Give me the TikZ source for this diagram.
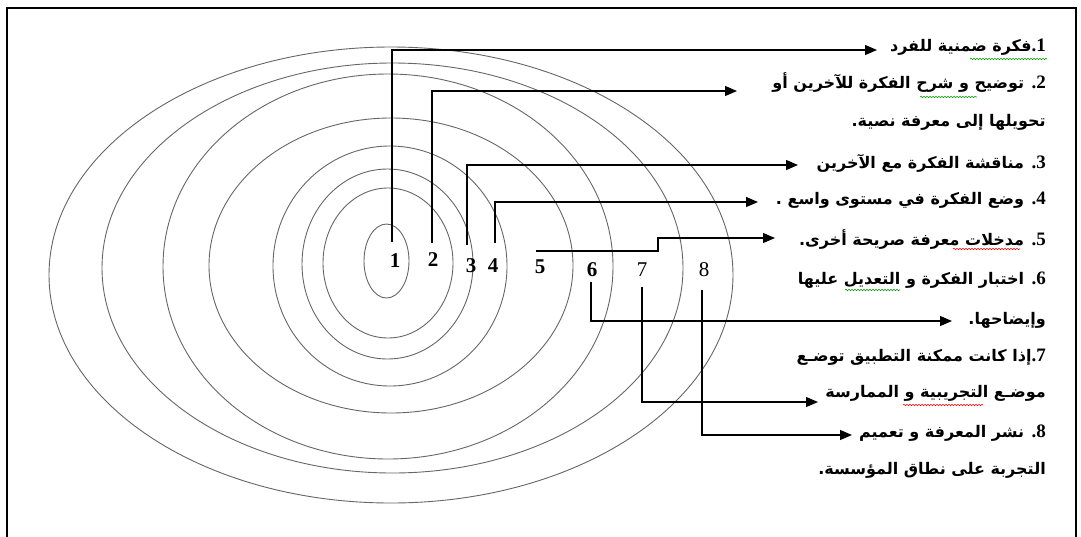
\documentclass[tikz,border=0pt]{standalone}
\usepackage{fontspec}
\setmainfont{Liberation Serif}
\newfontfamily\arabicfont[Script=Arabic]{DejaVu Sans}
\TeXXeTstate=1
\usetikzlibrary{arrows.meta, calc, decorations.pathmorphing}

\newcommand{\itemno}[1]{{\rmfamily\bfseries\fontsize{19}{19}\selectfont #1\kern0pt.}}

\begin{document}
\begin{tikzpicture}[x=1pt, y=-1pt,
    frame/.style={line width=1.8pt},
    ring/.style={draw=black!60, line width=0.9pt},
    conn/.style={line width=1.2pt},
    arrow/.style={conn, -{Triangle[length=12pt, width=10pt]}},
    num/.style={inner sep=0pt, font=\bfseries\fontsize{21}{21}\selectfont},
    numthin/.style={inner sep=0pt, font=\fontsize{21}{21}\selectfont},
    item/.style={anchor=east, inner sep=0pt, font=\arabicfont\bfseries\fontsize{16}{16}\selectfont},
    squiggle/.style={decorate, decoration={snake, amplitude=0.7pt, segment length=3pt}, line width=0.6pt}
]
    \useasboundingbox (0,0) rectangle (1081,536);

    % frame
    \draw[frame] (7,540) -- (7,8) -- (1076,8) -- (1076,540);

    % rings
    \draw[ring] (386.5,261) ellipse [x radius=22.5pt, y radius=37pt];
    \draw[ring] (388,263) ellipse [x radius=65pt, y radius=75pt];
    \draw[ring] (387.5,264) ellipse [x radius=85.5pt, y radius=95pt];
    \draw[ring] (390,266) ellipse [x radius=117pt, y radius=120pt];
    \draw[ring] (391,265.5) ellipse [x radius=182pt, y radius=147.5pt];
    \draw[ring] (388,266.5) ellipse [x radius=225pt, y radius=192.5pt];
    \draw[ring] (392.5,268) ellipse [x radius=290.5pt, y radius=205pt];
    \draw[ring] (391,275) ellipse [x radius=342pt, y radius=228pt];

    % numbers
    \node[num] (n1) at (395,261) {1};
    \node[num] (n2) at (433,260) {2};
    \node[num] (n3) at (471,266) {3};
    \node[num] (n4) at (493,266) {4};
    \node[num] (n5) at (540,267) {5};
    \node[num] (n6) at (592,270) {6};
    \node[numthin] (n7) at (642,270) {7};
    \node[numthin] (n8) at (704,270) {8};

    % stages
    \node[item] (t1) at (1046,47) {\beginR\itemno{1}فكرة ضمنية للفرد\endR};
    \node[item] (t2a) at (1046,83) {\beginR\itemno{2} توضيح  و شرح الفكرة للآخرين أو\endR};
    \node[item] (t2b) at (1046,122) {\beginR تحويلها إلى معرفة نصية.\endR};
    \node[item] (t3) at (1046,163) {\beginR\itemno{3} مناقشة الفكرة مع الآخرين\endR};
    \node[item] (t4) at (1046,200) {\beginR\itemno{4} وضع الفكرة  في مستوى واسع .\endR};
    \node[item] (t5) at (1046,240) {\beginR\itemno{5} مدخلات معرفة صريحة أخرى.\endR};
    \node[item] (t6a) at (1046,280) {\beginR\itemno{6} اختبار الفكرة و التعديل عليها\endR};
    \node[item] (t6b) at (1046,320) {\beginR وإيضاحها.\endR};
    \node[item] (t7a) at (1046,357) {\beginR\itemno{7}إذا كانت ممكنة التطبيق توضـع\endR};
    \node[item] (t7b) at (1046,393) {\beginR موضـع التجريبية و الممارسة\endR};
    \node[item] (t8a) at (1046,433) {\beginR\itemno{8} نشر المعرفة و تعميم\endR};
    \node[item] (t8b) at (1046,470) {\beginR التجربة على نطاق المؤسسة.\endR};

    % arrow ends
    \coordinate (a1) at (877,50);
    \coordinate (a2) at (737,91);
    \coordinate (a3) at (798,165);
    \coordinate (a4) at (758,202);
    \coordinate (a5) at (775,238);
    \coordinate (a6) at (952,321);
    \coordinate (a7) at (818,402);
    \coordinate (a8) at (852,435);

    % connectors
    \draw[arrow] ($(n1)+(-3,-19)$) |- (a1);
    \draw[arrow] ($(n2)+(-1,-17)$) |- (a2);
    \draw[arrow] ($(n3)+(-4,-21)$) |- (a3);
    \draw[arrow] ($(n4)+(2,-23)$) |- (a4);
    \draw[arrow] ($(n5)+(-4,-16)$) -- ++(122,0) |- (a5);
    \draw[arrow] ($(n6)+(-1,12)$) |- (a6);
    \draw[arrow] ($(n7)+(0,17)$) |- (a7);
    \draw[arrow] ($(n8)+(-2,20)$) |- (a8);

    % spelling marks
    \draw[squiggle, green!60!black] (970,59) -- (1047,59);
    \draw[squiggle, green!60!black] (920,97) -- (977,97);
    \draw[squiggle, red] (953,249) -- (1020,249);
    \draw[squiggle, green!60!black] (845,290) -- (900,290);
    \draw[squiggle, red] (903,405) -- (983,405);
\end{tikzpicture}
\end{document}
